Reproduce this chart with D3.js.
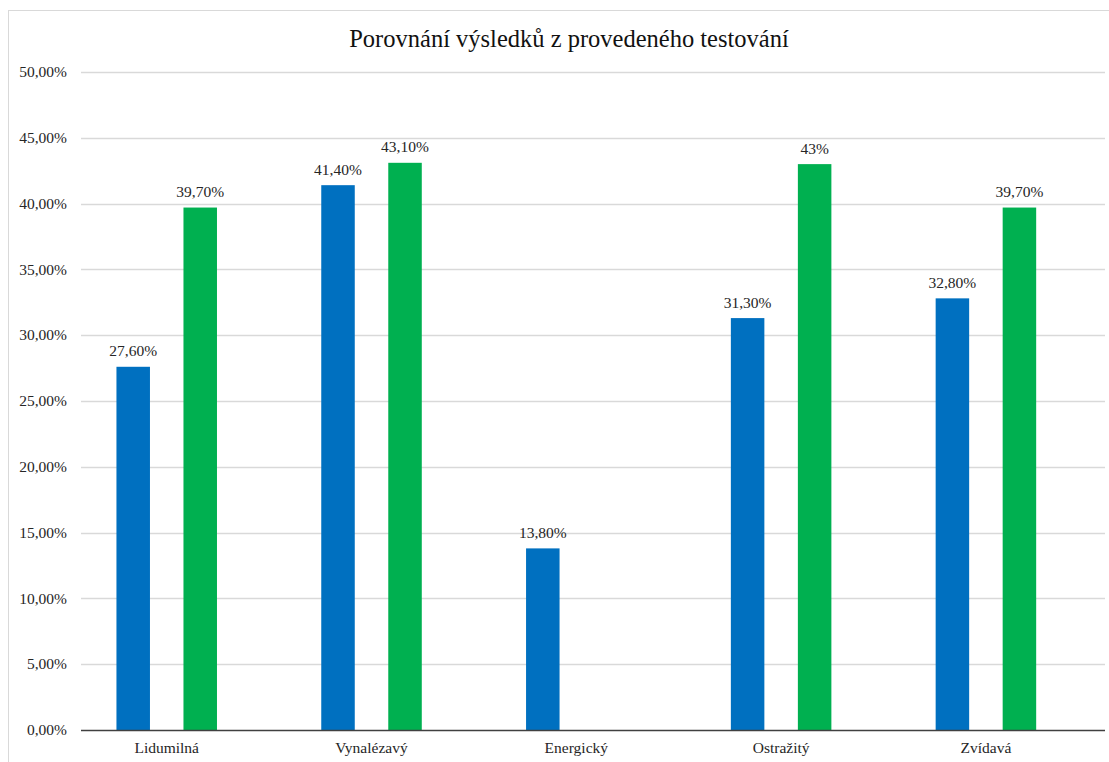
<!DOCTYPE html>
<html>
<head>
<meta charset="utf-8">
<script src="https://cdn.jsdelivr.net/npm/d3@7"></script>
<style>
  html, body { margin: 0; padding: 0; background: #fff; }
  svg { display: block; }
  text { font-family: "Liberation Serif", "Times New Roman", serif; }
</style>
</head>
<body>
<svg id="chart" width="1109" height="762"></svg>
<script>
// ---- data ----
const categories = ["Lidumilná", "Vynalézavý", "Energický", "Ostražitý", "Zvídavá"];
const seriesKeys = ["blue", "green"];
const blueValues = [27.6, 41.4, 13.8, 31.3, 32.8];
const greenValues = [39.7, 43.1, null, 43.0, 39.7];
const blueLabels = ["27,60%", "41,40%", "13,80%", "31,30%", "32,80%"];
const greenLabels = ["39,70%", "43,10%", null, "43%", "39,70%"];
const yTicks = [0, 5, 10, 15, 20, 25, 30, 35, 40, 45, 50];
const yTickLabels = ["0,00%", "5,00%", "10,00%", "15,00%", "20,00%", "25,00%", "30,00%", "35,00%", "40,00%", "45,00%", "50,00%"];
const title = "Porovnání výsledků z provedeného testování";

// ---- layout ----
const svg = d3.select("#chart");
const W = 1109, H = 762;
const plot = { left: 81, right: 1105, top: 72, bottom: 730 };
const colors = { blue: "#0070C0", green: "#00B050" };

// frame
svg.append("rect")
  .attr("x", 8.5).attr("y", 10.5)
  .attr("width", 1200).attr("height", 900)
  .attr("fill", "#fff").attr("stroke", "#d9d9d9").attr("stroke-width", 1);

const x0 = d3.scaleBand().domain(categories).range([plot.left, plot.right]).padding(0);
const x1 = d3.scaleBand().domain(seriesKeys).range([0, x0.bandwidth()])
  .paddingInner(0.5).paddingOuter(0.778).align(0.34);
const y = d3.scaleLinear().domain([0, 50]).range([plot.bottom, plot.top]);

// gridlines
svg.append("g").selectAll("line").data(yTicks.filter(t => t > 0)).join("line")
  .attr("x1", plot.left).attr("x2", plot.right)
  .attr("y1", d => Math.round(y(d)) + 0.5).attr("y2", d => Math.round(y(d)) + 0.5)
  .attr("stroke", "#d9d9d9").attr("stroke-width", 1.3);

// y tick labels
svg.append("g").selectAll("text").data(yTicks).join("text")
  .attr("x", 67).attr("y", d => y(d)).attr("dy", "0.33em")
  .attr("text-anchor", "end")
  .attr("font-size", 15.5).attr("fill", "#262626")
  .text((d, i) => yTickLabels[i]);

// bars
const rows = categories.map((c, i) => ({
  cat: c,
  items: [
    { key: "blue", value: blueValues[i], label: blueLabels[i] },
    { key: "green", value: greenValues[i], label: greenLabels[i] }
  ].filter(d => d.value != null)
}));

const groups = svg.append("g").selectAll("g").data(rows).join("g")
  .attr("transform", d => `translate(${x0(d.cat)},0)`);

groups.selectAll("rect").data(d => d.items).join("rect")
  .attr("x", d => x1(d.key))
  .attr("width", x1.bandwidth())
  .attr("y", d => y(d.value))
  .attr("height", d => y(0) - y(d.value))
  .attr("fill", d => colors[d.key]);

groups.selectAll("text").data(d => d.items).join("text")
  .attr("x", d => x1(d.key) + x1.bandwidth() / 2)
  .attr("y", d => y(d.value) - 10.5)
  .attr("text-anchor", "middle")
  .attr("font-size", 15.5).attr("fill", "#262626")
  .text(d => d.label);

// x axis line
svg.append("line")
  .attr("x1", plot.left).attr("x2", plot.right)
  .attr("y1", plot.bottom + 0.5).attr("y2", plot.bottom + 0.5)
  .attr("stroke", "#404040").attr("stroke-width", 1.5);

// x labels (centered on the bar group)
svg.append("g").selectAll("text").data(categories).join("text")
  .attr("x", d => x0(d) + (x1("blue") + x1("green") + x1.bandwidth()) / 2)
  .attr("y", 753)
  .attr("text-anchor", "middle")
  .attr("font-size", 15.5).attr("fill", "#262626")
  .text(d => d);

// title
svg.append("text")
  .attr("x", 569).attr("y", 47)
  .attr("text-anchor", "middle")
  .attr("font-size", 24.5).attr("fill", "#111")
  .text(title);
</script>
</body>
</html>
